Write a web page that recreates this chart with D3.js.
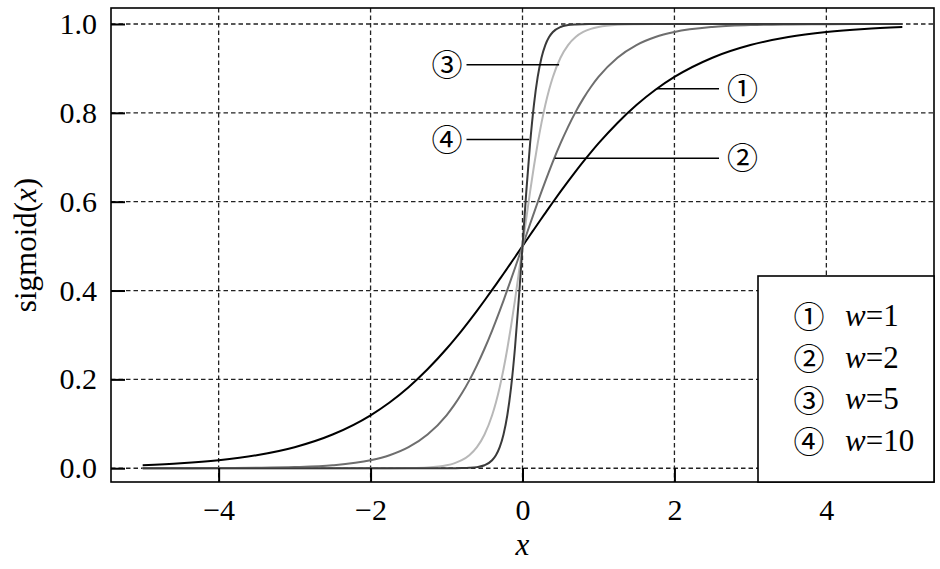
<!DOCTYPE html>
<html>
<head>
<meta charset="utf-8">
<script src="https://cdn.jsdelivr.net/npm/d3@7"></script>
<style>
  html, body { margin: 0; padding: 0; background: #fff; }
  svg { display: block; }
</style>
</head>
<body>
<svg id="chart" width="940" height="569"></svg>
<script>
// ---- data ----
const xValues = [-5, -4.5, -4, -3.5, -3, -2.5, -2, -1.75, -1.5, -1.25, -1, -0.9, -0.8, -0.7, -0.6, -0.5, -0.4, -0.35, -0.3, -0.25, -0.2, -0.15, -0.1, -0.05, 0,
  0.05, 0.1, 0.15, 0.2, 0.25, 0.3, 0.35, 0.4, 0.5, 0.6, 0.7, 0.8, 0.9, 1, 1.25, 1.5, 1.75, 2, 2.5, 3, 3.5, 4, 4.5, 5];

const yW1 = [0.0067, 0.0110, 0.0180, 0.0293, 0.0474, 0.0759, 0.1192, 0.1480, 0.1824, 0.2227, 0.2689, 0.2891, 0.3100, 0.3318, 0.3543, 0.3775, 0.4013, 0.4134, 0.4256, 0.4378, 0.4502, 0.4626, 0.4750, 0.4875, 0.5000,
  0.5125, 0.5250, 0.5374, 0.5498, 0.5622, 0.5744, 0.5866, 0.5987, 0.6225, 0.6457, 0.6682, 0.6900, 0.7109, 0.7311, 0.7773, 0.8176, 0.8520, 0.8808, 0.9241, 0.9526, 0.9707, 0.9820, 0.9890, 0.9933];

const yW2 = [0.0000, 0.0001, 0.0003, 0.0009, 0.0025, 0.0067, 0.0180, 0.0293, 0.0474, 0.0759, 0.1192, 0.1419, 0.1680, 0.1978, 0.2315, 0.2689, 0.3100, 0.3318, 0.3543, 0.3775, 0.4013, 0.4256, 0.4502, 0.4750, 0.5000,
  0.5250, 0.5498, 0.5744, 0.5987, 0.6225, 0.6457, 0.6682, 0.6900, 0.7311, 0.7685, 0.8022, 0.8320, 0.8581, 0.8808, 0.9241, 0.9526, 0.9707, 0.9820, 0.9933, 0.9975, 0.9991, 0.9997, 0.9999, 1.0000];

const yW5 = [0.0000, 0.0000, 0.0000, 0.0000, 0.0000, 0.0000, 0.0000, 0.0002, 0.0006, 0.0019, 0.0067, 0.0110, 0.0180, 0.0293, 0.0474, 0.0759, 0.1192, 0.1480, 0.1824, 0.2227, 0.2689, 0.3208, 0.3775, 0.4378, 0.5000,
  0.5622, 0.6225, 0.6792, 0.7311, 0.7773, 0.8176, 0.8520, 0.8808, 0.9241, 0.9526, 0.9707, 0.9820, 0.9890, 0.9933, 0.9981, 0.9994, 0.9998, 1.0000, 1.0000, 1.0000, 1.0000, 1.0000, 1.0000, 1.0000];

const yW10 = [0.0000, 0.0000, 0.0000, 0.0000, 0.0000, 0.0000, 0.0000, 0.0000, 0.0000, 0.0000, 0.0000, 0.0001, 0.0003, 0.0009, 0.0025, 0.0067, 0.0180, 0.0293, 0.0474, 0.0759, 0.1192, 0.1824, 0.2689, 0.3775, 0.5000,
  0.6225, 0.7311, 0.8176, 0.8808, 0.9241, 0.9526, 0.9707, 0.9820, 0.9933, 0.9975, 0.9991, 0.9997, 0.9999, 1.0000, 1.0000, 1.0000, 1.0000, 1.0000, 1.0000, 1.0000, 1.0000, 1.0000, 1.0000, 1.0000];

const seriesNames = ["w=1", "w=2", "w=5", "w=10"];
const seriesMarks = ["\u2460", "\u2461", "\u2462", "\u2463"];
const xTicks = [-4, -2, 0, 2, 4];
const yTicks = [0.0, 0.2, 0.4, 0.6, 0.8, 1.0];

// annotation leader lines (data coordinates): label x, line start x, line end x, y
const annoMarks = ["\u2460", "\u2461", "\u2462", "\u2463"];
const annoLabelX = [2.895, 2.895, -0.995, -0.995];
const annoLineX1 = [2.587, 2.587, -0.737, -0.737];
const annoLineX2 = [1.763, 0.425, 0.482, 0.087];
const annoY = [0.854, 0.698, 0.908, 0.740];

// ---- styles ----
const colors = ["#000000", "#6e6e6e", "#b8b8b8", "#3a3a3a"];
const serif = "'Liberation Serif', 'Times New Roman', serif";
const circFont = "'Noto Sans CJK SC', 'Noto Sans CJK JP', sans-serif";

const svg = d3.select("#chart");
const pL = 111, pR = 934, pT = 8, pB = 482;

const x = d3.scaleLinear().domain([-5.417, 5.417]).range([pL, pR]);
const y = d3.scaleLinear().domain([-0.031, 1.036]).range([pB, pT]);

// grid
const grid = svg.append("g");
grid.selectAll("line.vg").data(xTicks).join("line").attr("class", "vg")
  .attr("x1", d => x(d)).attr("x2", d => x(d))
  .attr("y1", pT).attr("y2", pB)
  .attr("stroke", "#222").attr("stroke-width", 1.3).attr("stroke-dasharray", "4.5,3");
grid.selectAll("line.hg").data(yTicks).join("line").attr("class", "hg")
  .attr("x1", pL).attr("x2", pR)
  .attr("y1", d => y(d)).attr("y2", d => y(d))
  .attr("stroke", "#222").attr("stroke-width", 1.3).attr("stroke-dasharray", "4.5,3");

// curves
const allY = [yW1, yW2, yW5, yW10];
const line = d3.line().x(d => x(d[0])).y(d => y(d[1])).curve(d3.curveMonotoneX);
allY.forEach((ys, i) => {
  svg.append("path")
    .datum(xValues.map((xv, j) => [xv, ys[j]]))
    .attr("d", line)
    .attr("fill", "none")
    .attr("stroke", colors[i])
    .attr("stroke-width", 2);
});

// axes with inward ticks
const xAxis = svg.append("g").attr("transform", `translate(0,${pB})`)
  .call(d3.axisBottom(x).tickValues(xTicks).tickSize(-14).tickPadding(17).tickFormat(d3.format("d")));
const yAxis = svg.append("g").attr("transform", `translate(${pL},0)`)
  .call(d3.axisLeft(y).tickValues(yTicks).tickSize(-14).tickPadding(14).tickFormat(d3.format(".1f")));
[xAxis, yAxis].forEach(a => {
  a.select(".domain").remove();
  a.selectAll(".tick line").attr("stroke", "#000").attr("stroke-width", 2);
  a.selectAll(".tick text").style("font-family", serif).style("font-size", "30px").attr("fill", "#000");
});

// frame
svg.append("rect").attr("x", pL).attr("y", pT).attr("width", pR - pL).attr("height", pB - pT)
  .attr("fill", "none").attr("stroke", "#000").attr("stroke-width", 1.6);

// axis labels
svg.append("text").attr("x", x(0)).attr("y", 555).attr("text-anchor", "middle")
  .style("font-family", serif).style("font-size", "31px").style("font-style", "italic").text("x");
const yl = svg.append("text").attr("transform", `translate(36,${(pT + pB) / 2}) rotate(-90)`)
  .attr("text-anchor", "middle").style("font-family", serif).style("font-size", "31px");
yl.append("tspan").text("sigmoid(");
yl.append("tspan").style("font-style", "italic").text("x");
yl.append("tspan").text(")");

// annotations
annoMarks.forEach((m, i) => {
  svg.append("line")
    .attr("x1", x(annoLineX1[i])).attr("x2", x(annoLineX2[i]))
    .attr("y1", y(annoY[i])).attr("y2", y(annoY[i]))
    .attr("stroke", "#000").attr("stroke-width", 1.5);
  svg.append("text")
    .attr("x", x(annoLabelX[i])).attr("y", y(annoY[i]))
    .attr("dy", "0.36em").attr("text-anchor", "middle")
    .style("font-family", circFont).style("font-size", "31px")
    .text(m);
});

// legend
const lg = svg.append("g");
lg.append("rect").attr("x", 758).attr("y", 276).attr("width", pR - 758).attr("height", pB - 276)
  .attr("fill", "#fff").attr("stroke", "#000").attr("stroke-width", 1.6);
seriesNames.forEach((name, i) => {
  const cy = 317 + i * 41.7;
  lg.append("text").attr("x", 809).attr("y", cy).attr("dy", "0.36em").attr("text-anchor", "middle")
    .style("font-family", circFont).style("font-size", "31px").text(seriesMarks[i]);
  const t = lg.append("text").attr("x", 845).attr("y", cy + 9).style("font-family", serif).style("font-size", "31px");
  const parts = name.split("=");
  t.append("tspan").style("font-style", "italic").text(parts[0]);
  t.append("tspan").text("=" + parts[1]);
});
</script>
</body>
</html>
